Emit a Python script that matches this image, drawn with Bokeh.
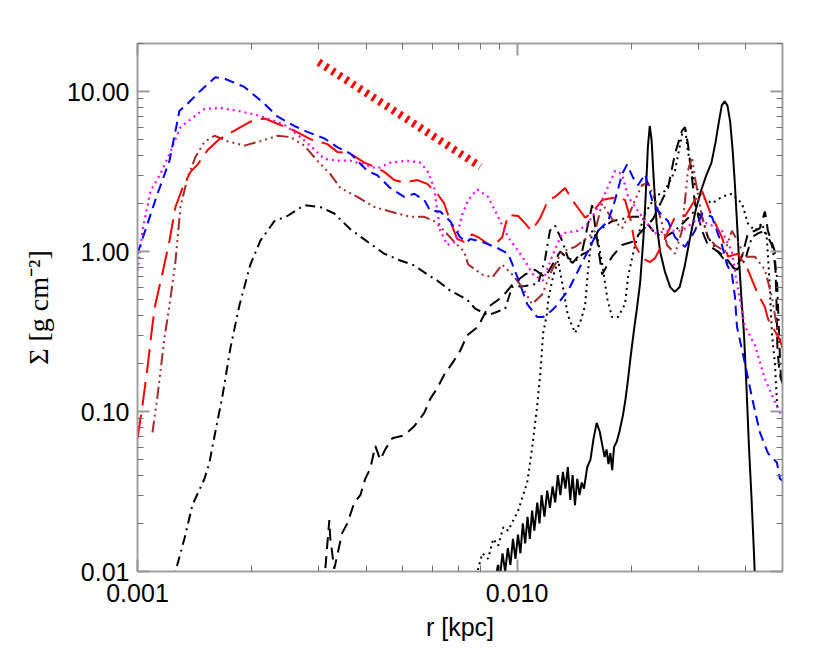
from bokeh.plotting import figure
from bokeh.models import LogAxis, FixedTicker, PrintfTickFormatter
from bokeh.embed import file_html
from bokeh.resources import INLINE

# (r [kpc], Sigma [g cm^-2]) pairs
blue = [(1.000e-3, 0.97), (1.063e-3, 1.5), (1.129e-3, 2.3), (1.214e-3, 3.7), (1.290e-3, 7.6), (1.354e-3, 8.4),
        (1.456e-3, 10.0), (1.604e-3, 12.3), (1.704e-3, 12.0), (1.912e-3, 10.7), (2.159e-3, 8.4), (2.336e-3, 7.0),
        (2.589e-3, 6.1), (2.801e-3, 5.6), (3.105e-3, 5.1), (3.360e-3, 4.5), (3.636e-3, 4.1), (4.030e-3, 3.2),
        (4.281e-3, 3.0), (4.632e-3, 2.5), (5.042e-3, 2.2), (5.357e-3, 2.3), (5.693e-3, 2.1), (5.904e-3, 1.8),
        (6.272e-3, 1.78), (6.663e-3, 1.55), (7.079e-3, 1.23), (7.386e-3, 1.15), (7.521e-3, 1.2), (8.087e-3, 1.15),
        (8.754e-3, 1.07), (9.470e-3, 0.97), (10.00e-3, 0.7), (10.63e-3, 0.47), (11.29e-3, 0.39), (11.71e-3, 0.39),
        (12.36e-3, 0.43), (12.59e-3, 0.45), (13.62e-3, 0.57), (15.10e-3, 0.93), (16.34e-3, 1.35), (17.36e-3, 1.55),
        (18.11e-3, 2.1), (18.90e-3, 3.05), (19.48e-3, 3.5), (20.20e-3, 2.9), (20.82e-3, 2.6), (21.72e-3, 3.05),
        (22.66e-3, 2.1), (23.50e-3, 1.8), (24.97e-3, 1.55), (26.05e-3, 1.23), (27.68e-3, 1.07), (29.40e-3, 1.35),
        (30.68e-3, 1.73), (32.59e-3, 1.65), (34.63e-3, 1.1), (35.70e-3, 0.83), (36.80e-3, 0.72), (37.48e-3, 0.52),
        (37.93e-3, 0.34), (39.81e-3, 0.2), (41.79e-3, 0.115), (43.60e-3, 0.074), (45.77e-3, 0.055),
        (48.33e-3, 0.048), (49.22e-3, 0.038), (50.0e-3, 0.037)]

magenta = [(1.000e-3, 0.76), (1.031e-3, 1.35), (1.082e-3, 2.4), (1.149e-3, 3.05), (1.214e-3, 4.1), (1.298e-3, 6.0),
           (1.413e-3, 7.0), (1.501e-3, 7.8), (1.654e-3, 7.9), (1.833e-3, 7.6), (2.032e-3, 7.2), (2.239e-3, 6.7),
           (2.437e-3, 6.2), (2.636e-3, 5.4), (2.852e-3, 4.6), (3.105e-3, 3.8), (3.360e-3, 3.7), (3.636e-3, 3.7),
           (3.958e-3, 3.5), (4.281e-3, 3.3), (4.632e-3, 3.6), (5.134e-3, 3.7), (5.556e-3, 3.6), (5.798e-3, 3.2),
           (6.048e-3, 2.5), (6.159e-3, 1.8), (6.272e-3, 1.35), (6.543e-3, 1.1), (6.868e-3, 1.15), (7.166e-3, 1.7),
           (7.431e-3, 2.1), (7.847e-3, 2.45), (8.385e-3, 2.2), (8.913e-3, 1.65), (9.470e-3, 1.23), (10.31e-3, 0.93),
           (11.02e-3, 0.72), (11.71e-3, 0.66), (12.36e-3, 0.93), (13.13e-3, 1.3), (14.47e-3, 1.35), (15.38e-3, 1.5),
           (16.74e-3, 2.1), (18.11e-3, 3.2), (18.90e-3, 3.05), (19.60e-3, 2.2), (21.72e-3, 1.55), (23.08e-3, 1.3),
           (24.97e-3, 1.35), (27.18e-3, 1.35), (29.40e-3, 1.55), (31.81e-3, 1.5), (34.63e-3, 1.35), (36.80e-3, 1.0),
           (37.93e-3, 0.63), (39.81e-3, 0.34), (42.29e-3, 0.26), (44.94e-3, 0.16), (47.75e-3, 0.115), (50.0e-3, 0.092)]

red = [(1.000e-3, 0.068), (1.031e-3, 0.11), (1.063e-3, 0.19), (1.095e-3, 0.35), (1.115e-3, 0.47), (1.163e-3, 0.73),
       (1.214e-3, 1.17), (1.259e-3, 1.9), (1.314e-3, 2.5), (1.379e-3, 3.15), (1.439e-3, 3.5), (1.528e-3, 4.3),
       (1.644e-3, 5.05), (1.800e-3, 5.7), (1.983e-3, 6.5), (2.159e-3, 6.8), (2.336e-3, 6.3), (2.589e-3, 5.7),
       (2.852e-3, 5.05), (3.162e-3, 4.7), (3.360e-3, 4.2), (3.636e-3, 4.1), (3.958e-3, 3.6), (4.205e-3, 3.4),
       (4.467e-3, 3.15), (4.745e-3, 2.8), (5.042e-3, 2.7), (5.456e-3, 2.8), (5.798e-3, 2.65), (6.159e-3, 2.3),
       (6.425e-3, 2.0), (6.663e-3, 1.55), (6.952e-3, 1.2), (7.253e-3, 1.15), (7.6e-3, 1.28), (7.9e-3, 1.23),
       (8.60e-3, 1.07), (9.13e-3, 1.23), (9.47e-3, 1.7), (10.06e-3, 1.67), (10.50e-3, 1.5), (10.9e-3, 1.35),
       (11.5e-3, 1.62), (12.07e-3, 2.1), (12.59e-3, 2.2), (13.38e-3, 2.5), (13.96e-3, 2.1), (14.65e-3, 1.8),
       (15.10e-3, 1.63), (15.76e-3, 1.75), (16.74e-3, 2.1), (18.44e-3, 2.2), (19.24e-3, 2.1), (19.84e-3, 1.63),
       (20.45e-3, 1.1), (21.33e-3, 0.91), (22.39e-3, 0.86), (23.08e-3, 0.91), (24.08e-3, 1.1), (26.05e-3, 1.65),
       (27.68e-3, 1.67), (29.40e-3, 2.1), (30.68e-3, 2.4), (32.59e-3, 1.65), (34.63e-3, 1.23), (35.92e-3, 0.93),
       (38.16e-3, 0.97), (40.54e-3, 0.77), (42.81e-3, 0.56), (44.94e-3, 0.45), (45.77e-3, 0.38), (49.22e-3, 0.28),
       (50.0e-3, 0.25)]

brown = [(1.095e-3, 0.074), (1.129e-3, 0.125), (1.178e-3, 0.29), (1.214e-3, 0.46), (1.259e-3, 0.87), (1.298e-3, 1.9),
         (1.354e-3, 2.9), (1.421e-3, 3.9), (1.501e-3, 4.85), (1.595e-3, 5.3), (1.725e-3, 4.9), (1.912e-3, 4.6),
         (2.107e-3, 4.9), (2.336e-3, 5.3), (2.527e-3, 5.2), (2.751e-3, 4.6), (2.976e-3, 3.7), (3.220e-3, 3.05),
         (3.422e-3, 2.5), (3.793e-3, 2.2), (4.205e-3, 1.9), (4.632e-3, 1.78), (5.229e-3, 1.65), (5.693e-3, 1.65),
         (6.048e-3, 1.55), (6.425e-3, 1.35), (6.827e-3, 1.15), (7.253e-3, 1.0), (7.431e-3, 0.83), (8.087e-3, 0.72),
         (8.596e-3, 0.69), (9.132e-3, 0.83), (9.701e-3, 0.72), (10.31e-3, 0.6), (10.95e-3, 0.47), (11.64e-3, 0.54),
         (12.36e-3, 0.77), (13.13e-3, 1.0), (14.21e-3, 1.07), (15.38e-3, 1.23), (16.05e-3, 1.35), (16.74e-3, 2.0),
         (17.78e-3, 1.6), (18.90e-3, 1.4), (19.60e-3, 1.65), (20.45e-3, 2.1), (21.33e-3, 2.6), (22.12e-3, 2.7),
         (23.08e-3, 2.1), (24.08e-3, 1.5), (24.82e-3, 1.1), (26.05e-3, 0.97), (27.18e-3, 1.35), (28.18e-3, 3.2),
         (28.87e-3, 3.9), (29.40e-3, 2.9), (30.68e-3, 1.65), (31.81e-3, 1.23), (33.19e-3, 1.1), (35.27e-3, 1.0),
         (36.80e-3, 1.35), (38.16e-3, 1.15), (39.81e-3, 0.93), (42.29e-3, 0.93), (44.94e-3, 0.77), (46.89e-3, 0.52),
         (48.63e-3, 0.31), (50.0e-3, 0.26)]

black_dashdot = [(1.22e-3, 0.008), (1.259e-3, 0.01), (1.329e-3, 0.016), (1.395e-3, 0.026), (1.501e-3, 0.038),
                 (1.547e-3, 0.048), (1.604e-3, 0.075), (1.674e-3, 0.125), (1.757e-3, 0.25), (1.855e-3, 0.46),
                 (1.983e-3, 0.83), (2.107e-3, 1.17), (2.294e-3, 1.55), (2.482e-3, 1.67), (2.751e-3, 1.95),
                 (3.030e-3, 1.9), (3.299e-3, 1.73), (3.636e-3, 1.38), (4.104e-3, 1.12), (4.467e-3, 0.97),
                 (4.921e-3, 0.88), (5.357e-3, 0.82), (5.798e-3, 0.72), (6.159e-3, 0.66), (6.663e-3, 0.57),
                 (7.386e-3, 0.5), (7.752e-3, 0.44), (8.385e-3, 0.4), (9.299e-3, 0.44), (9.701e-3, 0.6),
                 (10.50e-3, 0.61), (11.36e-3, 0.63), (11.85e-3, 0.9), (12.2e-3, 1.35), (12.59e-3, 1.45),
                 (13.13e-3, 1.17), (13.62e-3, 0.91), (14.21e-3, 0.87), (14.83e-3, 0.96), (15.38e-3, 1.0),
                 (16.34e-3, 1.35), (17.78e-3, 1.55), (18.90e-3, 1.6), (20.08e-3, 1.65), (21.33e-3, 1.65),
                 (23.08e-3, 1.3), (24.52e-3, 1.23), (26.05e-3, 1.35), (27.68e-3, 1.55), (29.40e-3, 1.8),
                 (30.68e-3, 1.65), (31.81e-3, 1.23), (33.80e-3, 1.0), (35.92e-3, 0.83), (37.93e-3, 0.77),
                 (39.81e-3, 0.88), (41.53e-3, 1.23), (43.07e-3, 1.3), (44.94e-3, 1.35), (46.89e-3, 1.1),
                 (48.33e-3, 0.7), (49.22e-3, 0.22), (49.6e-3, 0.15)]

black_dashed = [(3.10e-3, 0.008), (3.124e-3, 0.0104), (3.201e-3, 0.021), (3.220e-3, 0.016), (3.299e-3, 0.0104),
                (3.401e-3, 0.0145), (3.464e-3, 0.0175), (3.570e-3, 0.02), (3.726e-3, 0.027), (3.863e-3, 0.03),
                (3.981e-3, 0.038), (4.104e-3, 0.044), (4.230e-3, 0.061), (4.360e-3, 0.05), (4.494e-3, 0.058),
                (4.689e-3, 0.068), (5.042e-3, 0.071), (5.357e-3, 0.081), (5.693e-3, 0.098), (5.904e-3, 0.12),
                (6.159e-3, 0.14), (6.425e-3, 0.17), (6.745e-3, 0.2), (7.079e-3, 0.24), (7.386e-3, 0.3),
                (7.894e-3, 0.34), (8.385e-3, 0.45), (9.132e-3, 0.52), (9.761e-3, 0.63), (10.50e-3, 0.72),
                (11.15e-3, 0.77), (11.85e-3, 0.69), (12.98e-3, 1.0), (14.0e-3, 0.85), (14.83e-3, 1.0),
                (15.76e-3, 1.95), (16.74e-3, 0.72), (17.78e-3, 0.93), (18.90e-3, 1.1), (20.08e-3, 1.15),
                (21.33e-3, 1.35), (22.8e-3, 1.6), (24.08e-3, 2.1), (24.97e-3, 2.5), (26.05e-3, 4.1),
                (27.18e-3, 5.7), (27.68e-3, 6.0), (28.18e-3, 4.7), (28.87e-3, 2.9), (29.40e-3, 2.0),
                (30.68e-3, 1.35), (31.81e-3, 1.1), (33.80e-3, 1.0), (35.27e-3, 0.93), (37.48e-3, 0.77),
                (39.10e-3, 0.93), (40.54e-3, 1.3), (42.29e-3, 1.35), (43.60e-3, 1.4), (44.94e-3, 1.78),
                (45.77e-3, 1.35), (47.75e-3, 1.0), (48.2e-3, 0.5), (48.5e-3, 0.24), (49.22e-3, 0.17), (50.0e-3, 0.15)]

black_dotted = [(7.6e-3, 0.008), (7.894e-3, 0.0104), (8.1e-3, 0.013), (8.385e-3, 0.012), (8.65e-3, 0.016),
                (8.913e-3, 0.0145), (9.2e-3, 0.019), (9.470e-3, 0.018), (10.06e-3, 0.024), (10.63e-3, 0.036),
                (10.95e-3, 0.059), (11.29e-3, 0.108), (11.50e-3, 0.17), (11.71e-3, 0.31), (11.99e-3, 0.41),
                (12.07e-3, 0.5), (12.44e-3, 0.7), (12.82e-3, 0.88), (13.2e-3, 0.6), (13.6e-3, 0.4),
                (14.21e-3, 0.31), (14.65e-3, 0.36), (15.10e-3, 0.46), (15.38e-3, 0.77), (15.76e-3, 1.35),
                (16.3e-3, 1.2), (16.8e-3, 0.8), (17.3e-3, 0.5), (17.78e-3, 0.39), (18.44e-3, 0.39),
                (19.24e-3, 0.47), (19.60e-3, 0.7), (20.45e-3, 1.1), (21.72e-3, 1.73), (23.08e-3, 2.2),
                (24.52e-3, 2.4), (26.05e-3, 3.2), (27.18e-3, 5.4), (27.68e-3, 6.0), (28.18e-3, 4.2),
                (29.40e-3, 2.6), (30.68e-3, 2.2), (32.59e-3, 2.0), (34.63e-3, 2.2), (36.80e-3, 2.3),
                (39.10e-3, 2.0), (40.54e-3, 1.5), (42.29e-3, 1.35), (44.13e-3, 1.5), (45.5e-3, 1.2),
                (46.3e-3, 0.6), (46.89e-3, 0.31), (47.75e-3, 0.2), (48.5e-3, 0.1)]

black_solid = [(8.7e-3, 0.008), (8.9e-3, 0.011), (9.0e-3, 0.009), (9.15e-3, 0.013), (9.3e-3, 0.010), (9.45e-3, 0.014),
               (9.6e-3, 0.011), (9.75e-3, 0.016), (9.9e-3, 0.012), (10.05e-3, 0.017), (10.2e-3, 0.013),
               (10.35e-3, 0.02), (10.5e-3, 0.015), (10.65e-3, 0.022), (10.8e-3, 0.016), (10.95e-3, 0.024),
               (11.1e-3, 0.018), (11.3e-3, 0.027), (11.45e-3, 0.02), (11.6e-3, 0.03), (11.8e-3, 0.022),
               (12.0e-3, 0.032), (12.2e-3, 0.025), (12.4e-3, 0.034), (12.6e-3, 0.027), (12.8e-3, 0.04),
               (13.0e-3, 0.03), (13.2e-3, 0.042), (13.4e-3, 0.033), (13.6e-3, 0.045), (13.8e-3, 0.028),
               (14.0e-3, 0.04), (14.2e-3, 0.026), (14.4e-3, 0.038), (14.6e-3, 0.03), (14.8e-3, 0.036),
               (15.0e-3, 0.033), (15.3e-3, 0.045), (15.6e-3, 0.05), (15.9e-3, 0.068), (16.2e-3, 0.085),
               (16.5e-3, 0.075), (16.8e-3, 0.06), (17.0e-3, 0.052), (17.2e-3, 0.058), (17.4e-3, 0.047),
               (17.6e-3, 0.055), (17.8e-3, 0.043), (18.0e-3, 0.06), (18.3e-3, 0.065), (18.6e-3, 0.075),
               (19.0e-3, 0.095), (19.3e-3, 0.12), (19.6e-3, 0.16), (19.9e-3, 0.22), (20.3e-3, 0.32),
               (20.7e-3, 0.45), (21.1e-3, 0.65), (21.5e-3, 1.2), (21.8e-3, 2.2), (22.1e-3, 4.5),
               (22.35e-3, 6.1), (22.6e-3, 5.0), (22.9e-3, 2.8), (23.3e-3, 1.5), (23.8e-3, 1.0), (24.5e-3, 0.75),
               (25.3e-3, 0.6), (26.0e-3, 0.56), (26.8e-3, 0.6), (27.6e-3, 0.8), (28.5e-3, 1.2), (29.5e-3, 1.8),
               (30.5e-3, 2.4), (31.5e-3, 3.0), (32.5e-3, 3.6), (33.3e-3, 4.8), (34.0e-3, 6.5), (34.6e-3, 8.2),
               (35.2e-3, 8.7), (35.8e-3, 8.2), (36.4e-3, 6.5), (36.9e-3, 4.5), (37.4e-3, 2.8), (37.9e-3, 1.6),
               (38.4e-3, 0.9), (39.0e-3, 0.5), (39.6e-3, 0.3), (40.2e-3, 0.14), (40.8e-3, 0.06), (41.4e-3, 0.03),
               (42.0e-3, 0.014), (42.4e-3, 0.008)]

slope_r = [3.0e-3, 8.0e-3]
slope_sigma = [15.3, 3.4]

x_major = [0.001, 0.01]
x_minor = [0.002, 0.003, 0.004, 0.005, 0.006, 0.007, 0.008, 0.009, 0.02, 0.03, 0.04]
y_major = [0.01, 0.1, 1.0, 10.0]
y_minor = [0.02, 0.03, 0.04, 0.05, 0.06, 0.07, 0.08, 0.09,
           0.2, 0.3, 0.4, 0.5, 0.6, 0.7, 0.8, 0.9,
           2, 3, 4, 5, 6, 7, 8, 9, 20]

AX = "#9a9a9a"

p = figure(x_axis_type="log", y_axis_type="log", x_range=(0.001, 0.05), y_range=(0.01, 20),
           frame_width=645, frame_height=528, output_backend="svg", toolbar_location=None,
           min_border_left=137, min_border_right=32, min_border_top=43, min_border_bottom=79,
           x_axis_label="r [kpc]", y_axis_label="Σ [g cm⁻²]")
p.xgrid.visible = False
p.ygrid.visible = False
p.outline_line_color = AX
p.outline_line_width = 1.5
p.background_fill_color = "white"
p.border_fill_color = "white"

xt = FixedTicker(ticks=x_major, minor_ticks=x_minor)
yt = FixedTicker(ticks=y_major, minor_ticks=y_minor)


def style(ax, show):
    ax.axis_line_color = AX
    ax.axis_line_width = 1.5
    ax.major_tick_line_color = AX
    ax.major_tick_line_width = 2
    ax.minor_tick_line_color = "#707070"
    ax.minor_tick_line_width = 1
    ax.major_tick_in = 12
    ax.major_tick_out = 0
    ax.minor_tick_in = 6
    ax.minor_tick_out = 0
    if show:
        ax.major_label_text_font = "Liberation Sans"
        ax.major_label_text_font_size = "25px"
        ax.major_label_text_color = "black"
    else:
        ax.major_label_text_font_size = "0px"
        ax.major_label_text_alpha = 0


xa = p.xaxis[0]
xa.ticker = xt
xa.formatter = PrintfTickFormatter(format="%.3f")
style(xa, True)
xa.major_label_standoff = 12
xa.axis_label_text_font = "Liberation Sans"
xa.axis_label_text_font_size = "25px"
xa.axis_label_text_font_style = "normal"
xa.axis_label_text_color = "black"
xa.axis_label_standoff = 8

ya = p.yaxis[0]
ya.ticker = yt
ya.formatter = PrintfTickFormatter(format="%.2f")
style(ya, True)
ya.major_label_standoff = 8
ya.axis_label_text_font = "Liberation Serif"
ya.axis_label_text_font_size = "28px"
ya.axis_label_text_font_style = "normal"
ya.axis_label_text_color = "black"
ya.axis_label_standoff = 10

top = LogAxis(ticker=xt)
style(top, False)
p.add_layout(top, "above")
right = LogAxis(ticker=yt)
style(right, False)
p.add_layout(right, "right")


def xs(d):
    return [a for a, b in d]


def ys(d):
    return [b for a, b in d]


p.line(xs(black_solid), ys(black_solid), color="black", line_width=2)
p.line(xs(black_dotted), ys(black_dotted), color="black", line_width=2, line_dash="2 4")
p.line(xs(black_dashed), ys(black_dashed), color="black", line_width=2, line_dash="12 7")
p.line(xs(black_dashdot), ys(black_dashdot), color="black", line_width=2, line_dash="10 5 2 5")
p.line(xs(brown), ys(brown), color="#a52a2a", line_width=2, line_dash="12 4 2 4 2 4 2 4")
p.line(xs(red), ys(red), color="#ff0000", line_width=2, line_dash="24 9")
p.line(xs(magenta), ys(magenta), color="#ff00ff", line_width=2.2, line_dash="2 4")
p.line(xs(blue), ys(blue), color="#0000ff", line_width=2, line_dash="10 6")
p.line(slope_r, slope_sigma, color="#ff0000", line_width=8, line_dash="3 5")

open("out.html", "w").write(file_html(p, INLINE))
